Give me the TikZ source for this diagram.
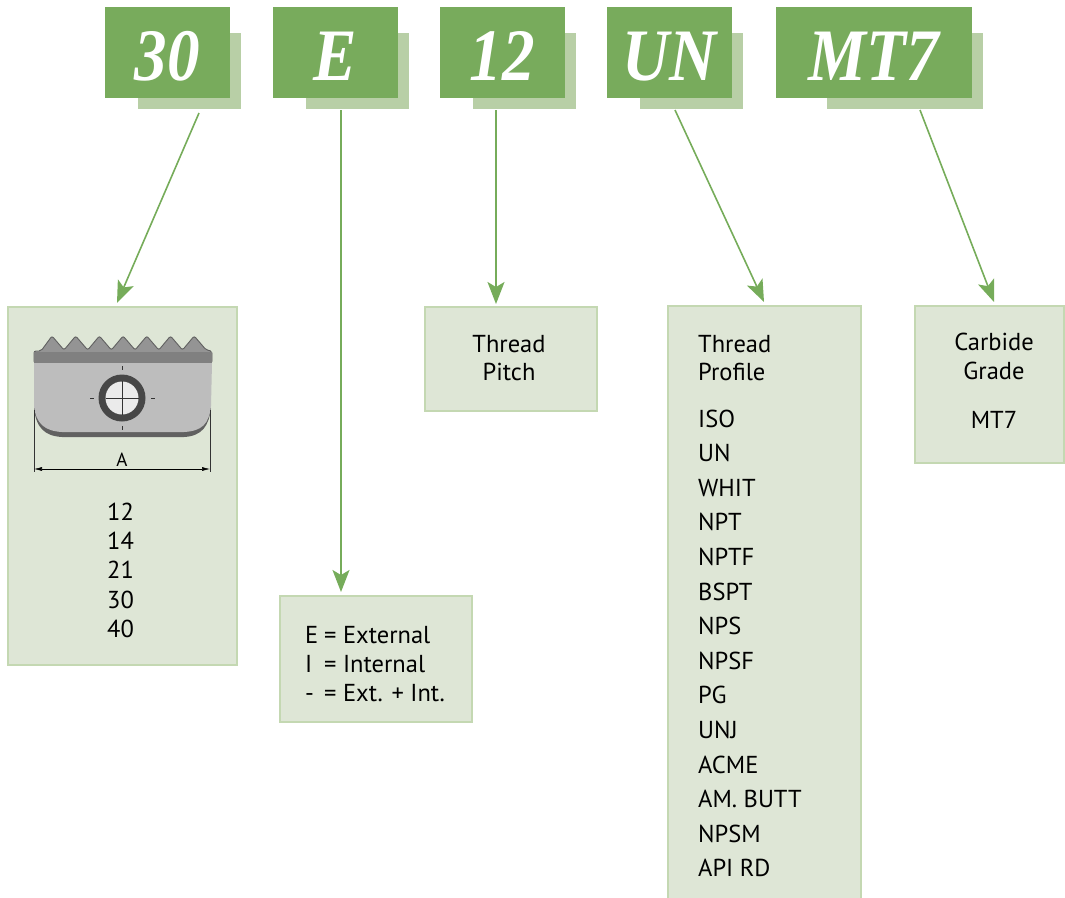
\documentclass[tikz,border=0pt]{standalone}
\usepackage{fontspec}
\setmainfont{PT Sans}
\newfontfamily\hdfont[FakeStretch=0.88]{Liberation Serif}
\usetikzlibrary{positioning,arrows.meta}
\definecolor{hdgreen}{RGB}{120,171,92}
\definecolor{shgreen}{RGB}{184,207,166}
\definecolor{boxfill}{RGB}{222,230,214}
\definecolor{boxline}{RGB}{196,216,178}
\definecolor{arrgreen}{RGB}{118,172,90}

\begin{document}
\begin{tikzpicture}[x=1pt,y=-1pt,
	hdbox/.style={fill=hdgreen,inner sep=0pt,outer sep=0pt,minimum height=91pt,text height=55pt,text depth=0pt,text=white,font=\hdfont\bfseries\itshape\fontsize{74}{74}\selectfont},
	shbox/.style={fill=shgreen,inner sep=0pt,outer sep=0pt,minimum height=76pt,anchor=north west},
	infobox/.style={fill=boxfill,draw=boxline,line width=1.5pt,inner sep=0pt,outer sep=0pt,anchor=north west},
	txt/.style={font=\fontsize{24.5}{29}\selectfont,inner sep=0pt,anchor=base west},
	ctxt/.style={txt,anchor=base},
	conn/.style={draw=arrgreen,line width=1.6pt,-{Stealth[length=22pt,width=17pt,inset=5pt]}}]
					\useasboundingbox (0,0) rectangle (1065,897);
					\foreach \n/\sx/\sw/\fw in {30/138/103/125,E/306/103/125,12/473/103/125,UN/640/103/125,MT7/827/156/196}{
					\node[shbox,minimum width=\sw pt] (sh\n) at (\sx,33) {};
					\node[hdbox,minimum width=\fw pt,above left=11pt and 11pt of sh\n.south east] (hd\n) {\n};
					}
					\node[infobox,minimum width=229pt,minimum height=358pt] (bxsize) at (8,307) {};
					\node[infobox,minimum width=192pt,minimum height=126pt] (bxtype) at (280,596) {};
					\node[infobox,minimum width=172pt,minimum height=104pt] (bxpitch) at (425,307) {};
					\node[infobox,minimum width=193pt,minimum height=600pt] (bxprofile) at (668,306) {};
					\node[infobox,minimum width=149pt,minimum height=157pt] (bxgrade) at (915,306) {};
					\draw[conn] ([xshift=9.5pt,yshift=-4pt]sh30.south) -- ([xshift=-5.5pt,yshift=4pt]bxsize.north);
					\draw[conn] ([xshift=-16.5pt,yshift=-1pt]shE.south) -- ([xshift=-35pt,yshift=4pt]bxtype.north);
					\draw[conn] ([xshift=-28.5pt,yshift=-1pt]sh12.south) -- ([xshift=-15pt,yshift=3pt]bxpitch.north);
					\draw[conn] ([xshift=-16.5pt,yshift=-1pt]shUN.south) -- ([xshift=-0.5pt,yshift=4pt]bxprofile.north);
					\draw[conn] ([xshift=15pt,yshift=-1pt]shMT7.south) -- ([xshift=4.5pt,yshift=4pt]bxgrade.north);
					% insert
					\fill[black!42,draw=black!62,line width=0.9pt,rounded corners=2pt] (34,351) -- (41,351)
					foreach \k in {0,...,6} { -- ({52+23.7*\k},336) -- ({64+23.7*\k},350) }
					-- (212,351) -- (212,363) -- (34,363) -- cycle;
					\fill[black!50] (34,352) rectangle (212,363);
					\fill[black!62] (34,408) .. controls (36,428) and (45,436) .. (62,437) -- (184,437) .. controls (202,436) and (209,426) .. (211,408) -- cycle;
					\fill[black!26] (34,363) -- (34,406) .. controls (36,424) and (45,431) .. (62,432) -- (184,432) .. controls (202,431) and (209,424) .. (211,406) -- (212,363) -- cycle;
					\fill[black!72] (122,398) circle (23.5);
					\fill[black!8] (122,398) circle (16.5);
					\draw[black!80,line width=0.6pt] (106,398) -- (139,398) (122,381) -- (122,415);
					\draw[black!80,line width=0.6pt] (90,398) -- (94,398) (151,398) -- (155,398) (122,366) -- (122,370) (122,426) -- (122,430);
					\draw[black!80,line width=0.6pt] (34,410) -- (34,472) (210,410) -- (210,472);
					\draw[black,line width=0.6pt,{Latex[length=8pt,width=4pt]}-{Latex[length=8pt,width=4pt]}] (34,469) -- (210,469);
					\node[font=\fontsize{19}{19}\selectfont,inner sep=0pt,anchor=base] (dimA) at (122,466) {A};
					\foreach \s [count=\i] in {12,14,21,30,40}
					\node[txt] (sz\i) at (107,{520+29.4*(\i-1)}) {\s};
					\foreach \k/\v [count=\i] in {E/External,I/Internal,-/Ext. + Int.}
					\node[txt] (ty\i) at (305,{643+29*(\i-1)}) {\makebox[19pt][l]{\k}= \v};
					\node[ctxt] (tp1) at (509,352) {Thread};
					\node[ctxt] (tp2) at (509,380) {Pitch};
					\node[txt] (pf1) at (698,352) {Thread};
					\node[txt] (pf2) at (698,380) {Profile};
					\foreach \p [count=\i] in {ISO,UN,WHIT,NPT,NPTF,BSPT,NPS,NPSF,PG,UNJ,ACME,AM. BUTT,NPSM,API RD}
					\node[txt] (pr\i) at (698,{427+34.6*(\i-1)}) {\p};
					\node[ctxt] (gr1) at (994,350) {Carbide};
					\node[ctxt] (gr2) at (994,379) {Grade};
					\node[ctxt] (gr3) at (994,428) {MT7};
				\end{tikzpicture}
\end{document}
